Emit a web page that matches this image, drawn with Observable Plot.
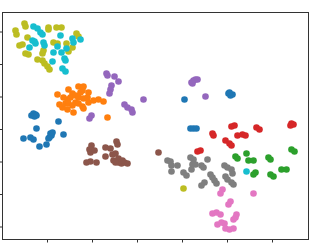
<!DOCTYPE html>
<html>
<head>
<meta charset="utf-8">
<script src="https://cdn.jsdelivr.net/npm/d3@7"></script>
<script src="https://cdn.jsdelivr.net/npm/@observablehq/plot@0.6"></script>
<style>
  html, body { margin: 0; padding: 0; background: #fff; }
  #chart svg { display: block; }
</style>
</head>
<body>
<div id="chart"></div>
<script>
// Class names and matplotlib tab10 colours
const classes = ["c0", "c1", "c2", "c3", "c4", "c5", "c6", "c7", "c8", "c9"];
const palette = ["#1f77b4", "#ff7f0e", "#2ca02c", "#d62728", "#9467bd",
                 "#8c564b", "#e377c2", "#7f7f7f", "#bcbd22", "#17becf"];

// Embedding coordinates per class, [x, y]
const c0 = [[31,125],[33,127],[35,126],[34,124],[36,125],[58,119],[36,112],[23,102],[30,103],[33,101],
            [50,107],[51,105],[49,103],[48,102],[52,108],[63,106],[39,94],[46,96],[184,141],
            [228,147],[230,145],[232,146],[229,148],[190,112],[193,112],[196,112]];
const c1 = [[57,146],[68,151],[72,147],[78,154],[83,154],[82,150],[88,148],[63,143],[67,141],[70,143],
            [75,145],[78,143],[83,142],[87,143],[59,136],[65,137],[68,137],[62,133],[67,131],[73,128],
            [75,138],[78,137],[82,134],[83,132],[88,138],[93,140],[98,141],[103,139],[107,123],[72,135],[80,148]];
const c2 = [[235,84],[237,82],[246,87],[248,80],[253,80],[255,68],[253,66],[268,83],[270,81],[270,66],
            [273,64],[281,71],[286,71],[291,91],[294,89]];
const c3 = [[212,107],[213,105],[231,114],[234,115],[237,105],[242,106],[245,105],[225,100],[229,97],
            [231,95],[197,89],[200,90],[256,113],[259,111],[291,117],[293,116],[290,115]];
const c4 = [[106,167],[107,165],[114,164],[118,159],[111,155],[110,151],[109,147],[124,136],[127,133],
            [131,131],[132,128],[143,141],[91,125],[89,122],[191,158],[193,160],[195,161],[197,161],
            [192,157],[205,144]];
const c5 = [[91,95],[89,91],[90,88],[86,78],[90,79],[96,78],[94,90],[105,93],[110,92],[116,99],
            [117,96],[105,84],[112,86],[115,87],[113,80],[118,78],[121,77],[124,78],[127,77],[118,82],
            [122,80],[115,78],[158,88]];
const c6 = [[222,51],[220,47],[230,39],[228,36],[253,47],[212,27],[216,28],[220,26],[236,26],[235,23],
            [233,21],[217,16],[221,18],[224,17],[225,12],[229,11],[233,12]];
const c7 = [[167,80],[170,79],[171,75],[171,69],[177,75],[183,68],[186,65],[190,83],[193,81],[192,76],
            [195,76],[191,71],[201,75],[203,73],[207,81],[210,66],[212,63],[214,60],[216,57],[204,58],
            [201,55],[224,75],[227,73],[231,71],[232,67],[225,64],[227,61],[231,58],[233,56]];
const c8 = [[15,210],[16,206],[24,217],[25,214],[27,203],[22,196],[19,195],[25,187],[28,186],[37,181],
            [42,180],[44,177],[47,174],[49,171],[43,190],[42,187],[48,213],[48,211],[56,213],[61,213],
            [53,198],[57,197],[66,197],[68,189],[72,193],[76,207],[78,204],[183,52]];
const c9 = [[33,214],[37,212],[40,208],[42,206],[32,200],[34,199],[35,197],[29,193],[43,198],[44,195],
            [53,188],[60,205],[57,194],[61,188],[64,182],[65,180],[52,179],[62,172],[65,169],[72,202],
            [73,198],[80,201],[66,192],[246,69]];

// Axis extents and (unlabelled) tick positions
const xDomain = [2, 308];
const yDomain = [1, 228];
const xTicks = [47, 92, 137, 182, 227, 272];
const yTicks = [13.5, 46, 78.5, 111, 143.5, 176, 208.5];

const groups = [c0, c1, c2, c3, c4, c5, c6, c7, c8, c9];
const points = groups.flatMap((g, i) => g.map(([x, y]) => ({x, y, cls: classes[i]})));

const chart = Plot.plot({
  width: 336,
  height: 244,
  marginLeft: 2,
  marginRight: 28,
  marginTop: 12,
  marginBottom: 5,
  style: {background: "#fff"},
  x: {domain: xDomain},
  y: {domain: yDomain},
  color: {domain: classes, range: palette},
  marks: [
    Plot.dot(points, {x: "x", y: "y", fill: "cls", r: 3.3, stroke: null}),
    Plot.frame({stroke: "#333", strokeWidth: 1}),
    Plot.axisX(xTicks, {anchor: "bottom", tickSize: 3.5, tickFormat: () => "", label: null, stroke: "#333"}),
    Plot.axisY(yTicks, {anchor: "left", tickSize: 3.5, tickFormat: () => "", label: null, stroke: "#333"})
  ]
});
document.getElementById("chart").appendChild(chart);
</script>
</body>
</html>
